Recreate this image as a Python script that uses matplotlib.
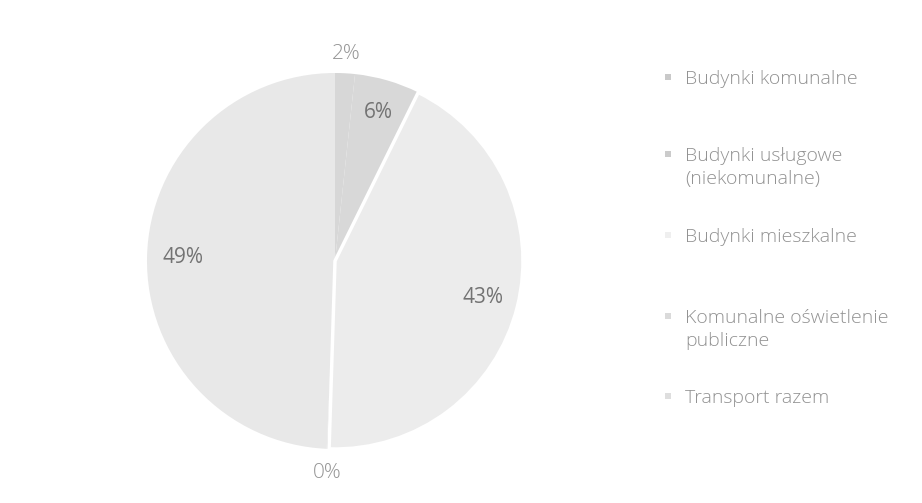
import matplotlib
matplotlib.use("Agg")
import matplotlib.pyplot as plt
from matplotlib.patches import Rectangle
import numpy as np

categories = ["Budynki komunalne", "Budynki usługowe\n(niekomunalne)", "Budynki mieszkalne",
              "Komunalne oświetlenie\npubliczne", "Transport razem"]
values = [1.7, 5.6, 43.2, 0.2, 49.3]
labels = ["2%", "6%", "43%", "0%", "49%"]
slice_colors = ["#d7d7d7", "#d8d8d8", "#ececec", "#e0e0e0", "#e8e8e8"]
marker_colors = ["#c9c9c9", "#cbcbcb", "#efefef", "#dadada", "#dedede"]

W, H = 922, 503
fig = plt.figure(figsize=(W / 100, H / 100), dpi=100)
fig.patch.set_facecolor("white")

cx, cy, r = 335, 261, 188
ax = fig.add_axes([(cx - r) / W, (H - cy - r) / H, 2 * r / W, 2 * r / H])
wedges, _ = ax.pie(values, colors=slice_colors, startangle=90, counterclock=False,
                   wedgeprops=dict(edgecolor="none", linewidth=0))
wedges[2].set_edgecolor("white")
wedges[2].set_linewidth(2.5)
wedges[2].set_zorder(5)
ax.set_xlim(-1, 1)
ax.set_ylim(-1, 1)
ax.set_aspect("equal")
ax.axis("off")

cum = np.cumsum([0] + values)
label_r = [1.10, 0.82, 0.81, 1.13, 0.81]
label_col = ["#959595", "#737373", "#737373", "#959595", "#737373"]
label_w = ["light", "normal", "normal", "light", "normal"]
for i, lab in enumerate(labels):
    mid = (cum[i] + cum[i + 1]) / 2 / sum(values) * 2 * np.pi
    ang = np.pi / 2 - mid
    x, y = label_r[i] * np.cos(ang), label_r[i] * np.sin(ang)
    ax.text(x, y, lab, ha="center", va="center", fontsize=15, color=label_col[i],
            family="Open Sans", fontweight=label_w[i], clip_on=False, zorder=10)

# legend (manual, Excel-like layout)
baselines = [84, 161, 242, 323, 403]
for name, col, b in zip(categories, marker_colors, baselines):
    fig.patches.append(Rectangle((665 / W, (H - b + 4) / H), 6 / W, 6 / H,
                                 transform=fig.transFigure, facecolor=col, edgecolor="none"))
    lines = name.split("\n")
    for k, line in enumerate(lines):
        fig.text(685 / W, (H - b - 23 * k) / H, line, ha="left", va="baseline",
                 fontsize=14, color="#929292", family="Open Sans", fontweight="light",
                 transform=fig.transFigure)

fig.savefig("out.png", dpi=100, facecolor="white")
